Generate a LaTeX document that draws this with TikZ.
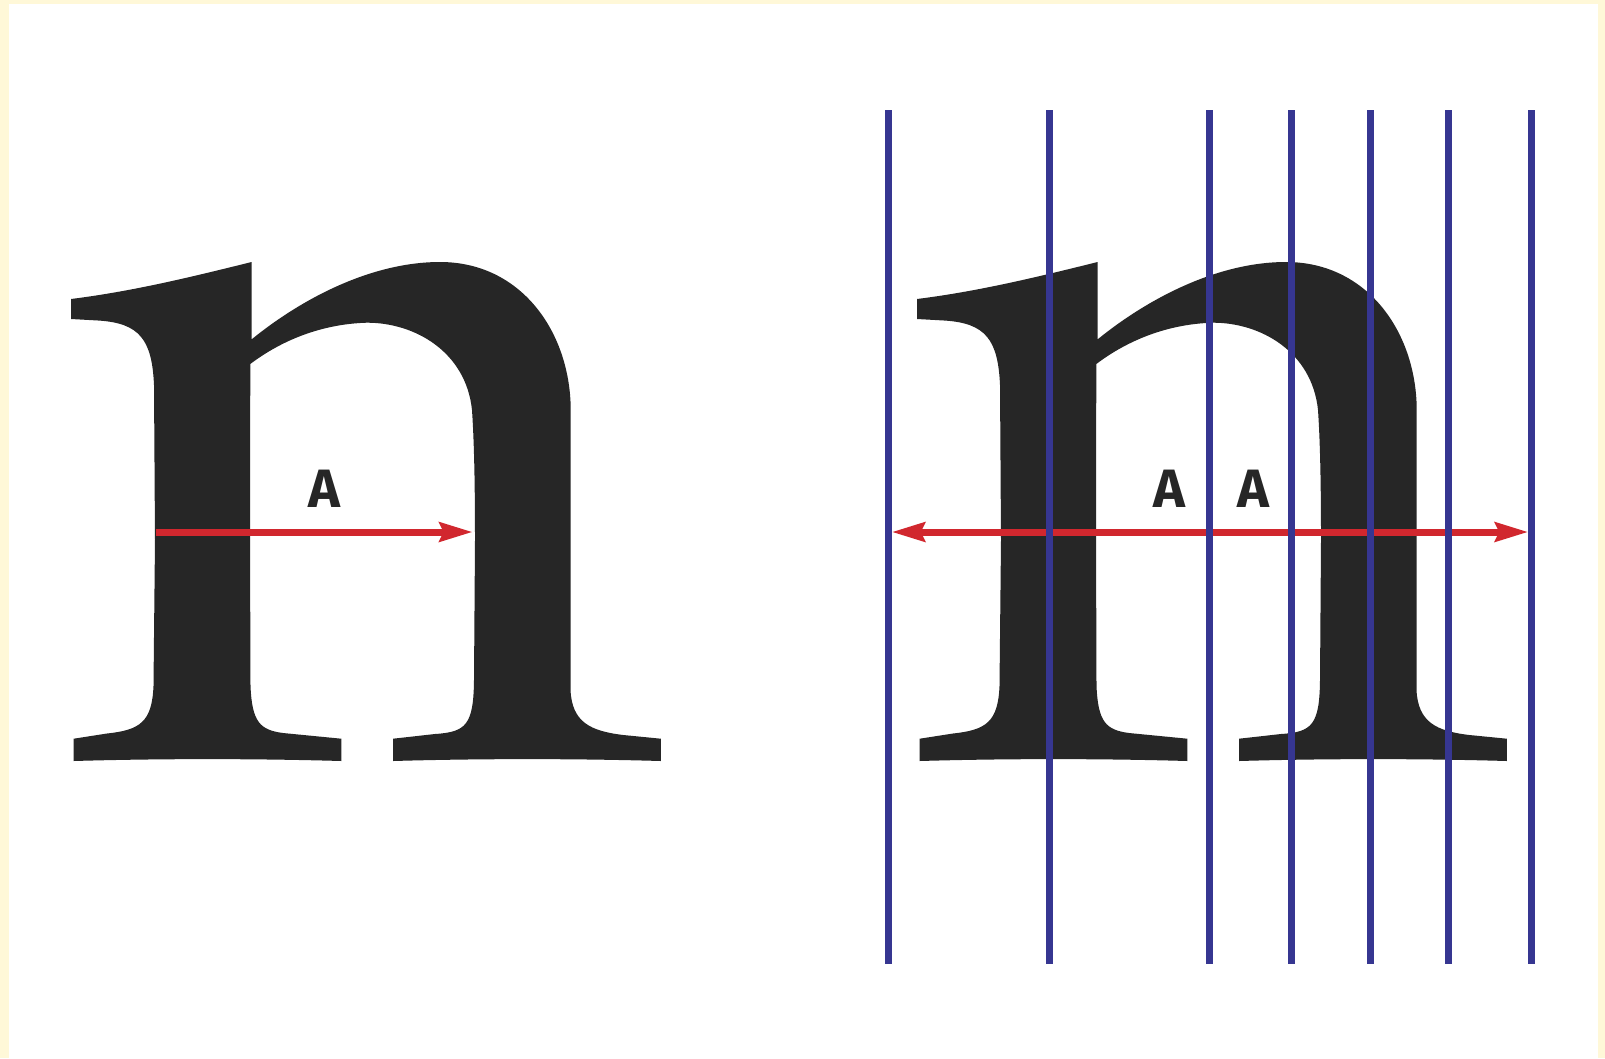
\documentclass[tikz,border=0pt]{standalone}
\usepackage{fontspec}
\setmainfont{Fira Sans}
\usetikzlibrary{arrows.meta}
\definecolor{glyphgray}{HTML}{262626}
\definecolor{arrowred}{HTML}{D1272E}
\definecolor{guideblue}{HTML}{363691}
\definecolor{frameyellow}{HTML}{FFF8D8}
\tikzset{
  glyph/.style={fill=glyphgray, draw=none},
  redarrow/.style={draw=arrowred, line width=7pt, -{Stealth[length=33pt,width=19pt,inset=4pt]}},
  redboth/.style={draw=arrowred, line width=7pt, {Stealth[length=33pt,width=19pt,inset=4pt]}-{Stealth[length=33pt,width=19pt,inset=4pt]}},
  guide/.style={draw=guideblue, line width=7pt},
  alabel/.style={font=\fontsize{54}{54}\selectfont\bfseries, text=glyphgray, inner sep=0pt, anchor=base}
}
\newcommand{\glyphpath}{%
  (71,299) -- (71,319) -- (98,320.5) .. controls (140,323) and (152,340) .. (154,385)
  -- (155,540) -- (153.5,686)
  .. controls (152,722) and (140,730) .. (107,733.5) -- (73.7,738.7)
  -- (73.7,761) .. controls (160,758.5) and (255,758.5) .. (341.4,761)
  -- (341.4,738.7) -- (283,733) .. controls (260,730) and (252,722) .. (250.5,686)
  -- (250,540) -- (250.3,364)
  .. controls (282,340) and (322,324) .. (366.7,322.7)
  .. controls (415,322.5) and (466,352) .. (472,410)
  .. controls (474,440) and (475,480) .. (475,540) -- (474,680)
  .. controls (473.5,725) and (466,732) .. (435,734) -- (393,738.7)
  -- (393,761) .. controls (480,758.5) and (575,758.5) .. (660.9,761)
  -- (660.9,738.7) -- (623.3,735) .. controls (590,731) and (572,722) .. (570.5,690)
  -- (570.7,406.7)
  .. controls (569,330) and (520,262) .. (440,262)
  .. controls (370,262) and (300,300) .. (251.7,339.3)
  -- (251.7,262)
  .. controls (195,276) and (135,291) .. (71,299) -- cycle}
\begin{document}
\begin{tikzpicture}[x=1pt,y=-1pt]
  % frame and canvas
  \fill[frameyellow] (0,0) rectangle (1605,1058);
  \fill[white] (9,4) rectangle (1598,1058);
  \useasboundingbox (0,0) rectangle (1605,1058);

  % glyphs
  \fill[glyph] \glyphpath;
  \begin{scope}[xshift=846pt]
    \fill[glyph] \glyphpath;
  \end{scope}

  % left arrow
  \coordinate (la) at (155.6,532);
  \coordinate (lb) at (472.7,532);
  \draw[redarrow] (la) -- (lb);
  \node[alabel] (lA) at (324.5,507.5) {A};

  % right arrow
  \coordinate (ra) at (891.7,532);
  \coordinate (rb) at (1528.3,532);
  \draw[redboth] (ra) -- (rb);
  \node[alabel] (rA1) at (1169.7,507.5) {A};
  \node[alabel] (rA2) at (1253.4,507.5) {A};

  % blue guide lines
  \foreach \i/\gx in {1/888.5,2/1049.2,3/1209.9,4/1291.8,5/1370.6,6/1448.4,7/1531.3}{
    \coordinate (gt\i) at (\gx,110);
    \coordinate (gb\i) at (\gx,964);
    \draw[guide] (gt\i) -- (gb\i);
  }
\end{tikzpicture}
\end{document}
